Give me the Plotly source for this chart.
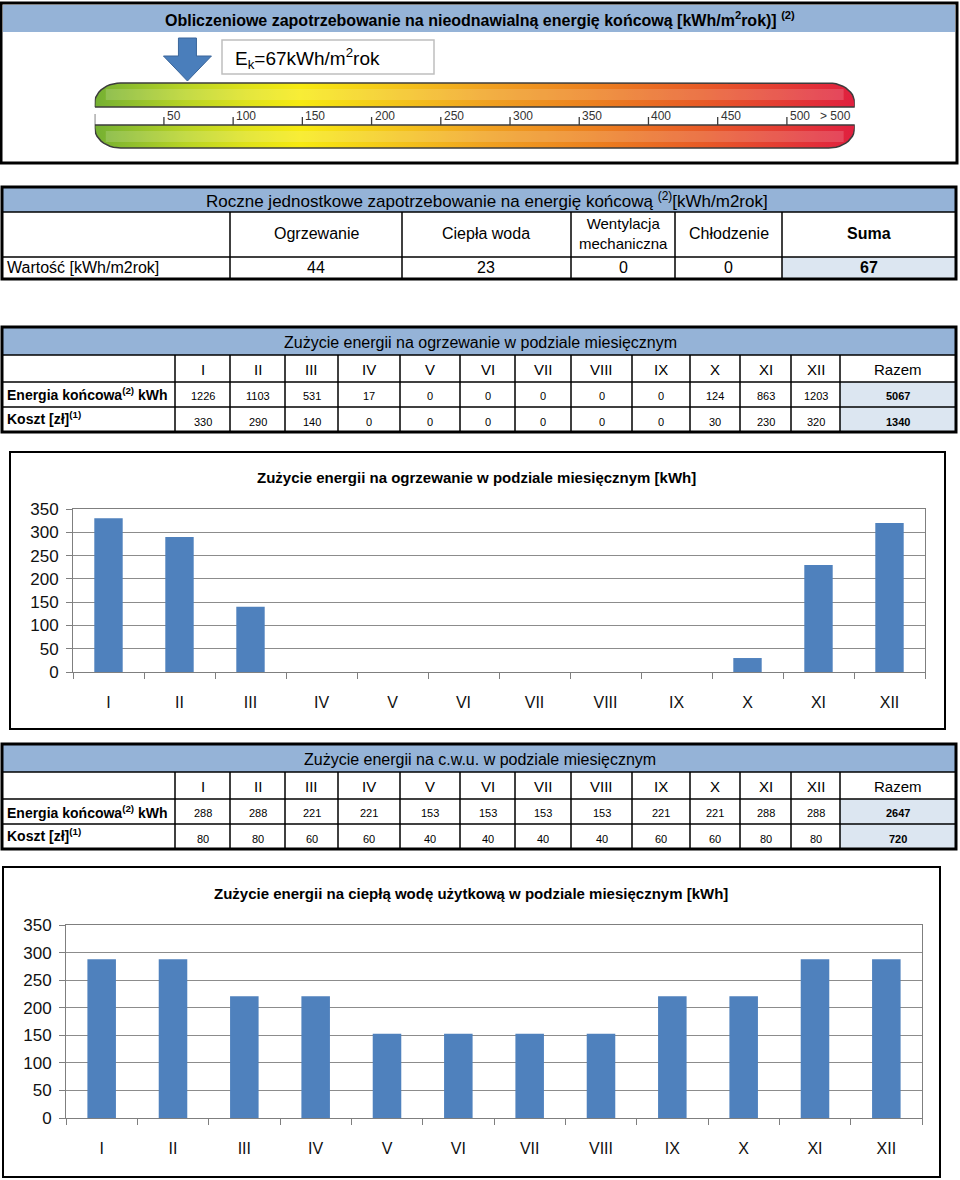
import numpy as np
import plotly.graph_objects as go

# ---------------- data ----------------
MONTHS = ["I", "II", "III", "IV", "V", "VI", "VII", "VIII", "IX", "X", "XI", "XII"]

HEAT_ENERGY = [1226, 1103, 531, 17, 0, 0, 0, 0, 0, 124, 863, 1203]
HEAT_COST = [330, 290, 140, 0, 0, 0, 0, 0, 0, 30, 230, 320]
HEAT_ENERGY_TOTAL = 5067
HEAT_COST_TOTAL = 1340

DHW_ENERGY = [288, 288, 221, 221, 153, 153, 153, 153, 221, 221, 288, 288]
DHW_COST = [80, 80, 60, 60, 40, 40, 40, 40, 60, 60, 80, 80]
DHW_ENERGY_TOTAL = 2647
DHW_COST_TOTAL = 720

ANNUAL_CATEGORIES = ["Ogrzewanie", "Ciepła woda", "Wentylacja<br>mechaniczna", "Chłodzenie"]
ANNUAL_VALUES = [44, 23, 0, 0]
ANNUAL_SUM = 67

EK = 67
SCALE_TICKS = [50, 100, 150, 200, 250, 300, 350, 400, 450, 500]
SCALE_MAX = 549

# ---------------- helpers ----------------
W, H = 960, 1180
FONT = "Liberation Sans, Arial, sans-serif"
BAND = "#95b3d7"
LIGHT = "#dce6f1"
BAR = "#4f81bd"

SC_PX0 = 94.7          # pixel of scale value 0
SC_PER = 1.3844        # pixels per kWh/m2rok on the scale


def X(px):
    return px / W


def Y(py):
    return 1 - py / H


shapes = []
annotations = []


def rect(x0, y0, x1, y1, fill=None, color=None, width=1):
    shapes.append(dict(type="rect", xref="paper", yref="paper",
                       x0=X(x0), x1=X(x1), y0=Y(y1), y1=Y(y0),
                       fillcolor=fill if fill else "rgba(0,0,0,0)",
                       line=dict(color=color if color else "rgba(0,0,0,0)",
                                 width=width if color else 0),
                       layer="above"))


def line(x0, y0, x1, y1, color="#000", width=1):
    shapes.append(dict(type="line", xref="paper", yref="paper",
                       x0=X(x0), x1=X(x1), y0=Y(y0), y1=Y(y1),
                       line=dict(color=color, width=width), layer="above"))


def text(x, y, s, size=15, bold=False, anchor="center", color="#000"):
    annotations.append(dict(xref="paper", yref="paper", x=X(x), y=Y(y),
                            text=f"<b>{s}</b>" if bold else s, showarrow=False,
                            xanchor=anchor, yanchor="middle",
                            font=dict(family=FONT, size=size, color=color)))


fig = go.Figure()

# ---------------- box 1: scale ----------------
rect(3, 5, 955, 32, fill=BAND)
rect(1, 3, 957, 163, color="#000", width=3)
text(480, 19, "Obliczeniowe zapotrzebowanie na nieodnawialną energię końcową [kWh/m<sup>2</sup>rok)] <sup>(2)</sup>",
     size=16, bold=True)

SCALE_COLORS = [[0.0, "#74b032"], [0.12, "#b9d424"], [0.2, "#dfe21a"], [0.27, "#f7ea10"],
                [0.4, "#f4c41a"], [0.52, "#f0a020"], [0.66, "#ec7f1e"], [0.8, "#e85a26"],
                [1.0, "#e0203f"]]

rx = 26 / SC_PER
ry = 20


def arc(cx, cy, t0, t1, n=12):
    t = np.linspace(t0, t1, n)
    return list(cx + rx * np.cos(t)), list(cy + ry * np.sin(t))


def band(y_top, y_bot, round_top):
    xs, ys = [], []
    if round_top:
        xs += [0]; ys += [y_bot]
        ax, ay = arc(rx, y_top + ry, np.pi, 1.5 * np.pi); xs += ax; ys += ay
        ax, ay = arc(SCALE_MAX - rx, y_top + ry, 1.5 * np.pi, 2 * np.pi); xs += ax; ys += ay
        xs += [SCALE_MAX, 0]; ys += [y_bot, y_bot]
    else:
        xs += [0, SCALE_MAX]; ys += [y_top, y_top]
        ax, ay = arc(SCALE_MAX - rx, y_bot - ry, 0, 0.5 * np.pi); xs += ax; ys += ay
        ax, ay = arc(rx, y_bot - ry, 0.5 * np.pi, np.pi); xs += ax; ys += ay
        xs += [0]; ys += [y_top]
    return xs, ys


for (yt, yb, rt) in [(83, 107, True), (125, 148, False)]:
    bx, by = band(yt, yb, rt)
    fig.add_trace(go.Scatter(x=bx, y=by, mode="lines", fill="toself",
                             fillgradient=dict(type="horizontal", colorscale=SCALE_COLORS),
                             line=dict(color="#3c3c3c", width=1.5),
                             xaxis="x3", yaxis="y3", hoverinfo="skip"))
for (yt, yb) in [(89, 100), (131, 142)]:
    gx = [8, SCALE_MAX - 8, SCALE_MAX - 8, 8, 8]
    gy = [yt, yt, yb, yb, yt]
    fig.add_trace(go.Scatter(x=gx, y=gy, mode="lines", fill="toself",
                             fillcolor="rgba(255,255,255,0.16)", line=dict(width=0),
                             xaxis="x3", yaxis="y3", hoverinfo="skip"))

tx, ty = [0, 0, None], [114, 125, None]
for v in SCALE_TICKS:
    tx += [v, v, None]
    ty += [117, 125, None]
fig.add_trace(go.Scatter(x=tx, y=ty, mode="lines", line=dict(color="#3c3c3c", width=1.3),
                         xaxis="x3", yaxis="y3", hoverinfo="skip"))
for v in SCALE_TICKS:
    annotations.append(dict(xref="x3", yref="y3", x=v + 1 / SC_PER, y=116, text=str(v),
                            showarrow=False, xanchor="left", yanchor="middle",
                            font=dict(family=FONT, size=12, color="#333")))
annotations.append(dict(xref="x3", yref="y3", x=SCALE_MAX - 2 / SC_PER, y=116, text="&gt; 500",
                        showarrow=False, xanchor="right", yanchor="middle",
                        font=dict(family=FONT, size=12, color="#333")))

sw, hw = 9 / SC_PER, 24 / SC_PER
ax_ = [EK - sw, EK + sw, EK + sw, EK + hw, EK, EK - hw, EK - sw, EK - sw]
ay_ = [38, 38, 56, 56, 81, 56, 56, 38]
fig.add_trace(go.Scatter(x=ax_, y=ay_, mode="lines", fill="toself", fillcolor="#4a7ebb",
                         line=dict(color="#3a659a", width=1), xaxis="x3", yaxis="y3",
                         hoverinfo="skip"))
rect(222, 40, 434, 74, fill="#fff", color="#bfbfbf", width=1.5)
text(233, 58, f"E<sub>k</sub>={EK}kWh/m<sup>2</sup>rok", size=19, anchor="left")

# ---------------- table 2: annual ----------------
T2 = [187, 212, 257, 279]
C2 = [2, 230, 402, 571, 675, 782, 956]
rect(3, 188, 955, 212, fill=BAND)
rect(C2[5], T2[2], C2[6], T2[3], fill=LIGHT)
text(487, 200, "Roczne jednostkowe zapotrzebowanie na energię końcową <sup>(2)</sup>[kWh/m2rok]", size=17)
line(2, T2[1], 956, T2[1], width=1.5)
line(2, T2[2], 956, T2[2], width=1.5)
for cx in C2[1:-1]:
    line(cx, T2[1], cx, T2[3], width=1.5)
rect(2, 187, 956, 279, color="#000", width=3)
for i, (cat, val) in enumerate(zip(ANNUAL_CATEGORIES, ANNUAL_VALUES)):
    xc = (C2[i + 1] + C2[i + 2]) / 2
    text(xc, 234, cat, size=15 if "<br>" in cat else 16)
    text(xc, 268, str(val), size=16)
text((C2[5] + C2[6]) / 2, 234, "Suma", size=16, bold=True)
text((C2[5] + C2[6]) / 2, 268, str(ANNUAL_SUM), size=16, bold=True)
text(5, 268, "Wartość [kWh/m2rok]", size=16, anchor="left")

# ---------------- monthly tables ----------------
CM = [2, 175, 230, 285, 338, 400, 460, 515, 571, 632, 690, 740, 791, 840, 956]


def monthly_table(top, title, energy, cost, e_total, c_total):
    r = [top, top + 28, top + 55, top + 80, top + 105]
    rect(3, r[0] + 1, 955, r[1], fill=BAND)
    rect(CM[-2], r[2], CM[-1], r[4], fill=LIGHT)
    text(480, (r[0] + r[1]) / 2 + 1, title, size=16)
    for yy in r[1:4]:
        line(2, yy, 956, yy, width=1.5)
    for cx in CM[1:-1]:
        line(cx, r[1], cx, r[4], width=1.5)
    rect(2, r[0], 956, r[4], color="#000", width=3)
    for i, m in enumerate(MONTHS + ["Razem"]):
        xc = (CM[i + 1] + CM[i + 2]) / 2
        text(xc, (r[1] + r[2]) / 2 + 1, m, size=15)
    for i, (e, c) in enumerate(zip(energy + [e_total], cost + [c_total])):
        xc = (CM[i + 1] + CM[i + 2]) / 2
        last = i == len(energy)
        text(xc, (r[2] + r[3]) / 2 + 1, str(e), size=11, bold=last)
        text(xc, (r[3] + r[4]) / 2 + 2, str(c), size=11, bold=last)
    text(5, (r[2] + r[3]) / 2, "Energia końcowa<sup>(2)</sup> kWh", size=14, bold=True, anchor="left")
    text(5, (r[3] + r[4]) / 2 - 2, "Koszt [zł]<sup>(1)</sup>", size=14, bold=True, anchor="left")


monthly_table(327, "Zużycie energii na ogrzewanie w podziale miesięcznym",
              HEAT_ENERGY, HEAT_COST, HEAT_ENERGY_TOTAL, HEAT_COST_TOTAL)
monthly_table(744, "Zużycie energii na c.w.u. w podziale miesięcznym",
              DHW_ENERGY, DHW_COST, DHW_ENERGY_TOTAL, DHW_COST_TOTAL)

# ---------------- charts ----------------
rect(10, 452, 945, 729, color="#000", width=2)
text(476, 477, "Zużycie energii na ogrzewanie w podziale miesięcznym [kWh]", size=15, bold=True)
rect(3, 867, 940, 1177, color="#000", width=2)
text(471, 893, "Zużycie energii na ciepłą wodę użytkową w podziale miesięcznym [kWh]", size=15, bold=True)

fig.add_trace(go.Bar(x=MONTHS, y=HEAT_COST, marker=dict(color=BAR, line=dict(width=0)),
                     xaxis="x", yaxis="y", hoverinfo="skip"))
fig.add_trace(go.Bar(x=MONTHS, y=DHW_ENERGY, marker=dict(color=BAR, line=dict(width=0)),
                     xaxis="x2", yaxis="y2", hoverinfo="skip"))

AXC = "#7f7f7f"
xcommon = dict(type="category", showline=True, linecolor=AXC, linewidth=1, mirror=True,
               ticks="outside", tickson="boundaries", ticklen=6, tickcolor=AXC,
               showgrid=False, ticklabelstandoff=16, automargin=False,
               tickfont=dict(family=FONT, size=16, color="#111"), fixedrange=True)
ycommon = dict(range=[0, 350], dtick=50, showline=True, linecolor=AXC, linewidth=1, mirror=True,
               ticks="outside", ticklen=6, tickcolor=AXC, showgrid=True, gridcolor="#8c8c8c",
               gridwidth=1, zeroline=False, ticklabelstandoff=4, automargin=False,
               tickfont=dict(family=FONT, size=17, color="#111"), fixedrange=True)

fig.update_layout(
    width=W, height=H, autosize=False,
    margin=dict(l=0, r=0, t=0, b=0, pad=0, autoexpand=False),
    paper_bgcolor="#ffffff", plot_bgcolor="rgba(0,0,0,0)",
    showlegend=False, bargap=0.6,
    xaxis=dict(domain=[X(73), X(925)], anchor="y", **xcommon),
    yaxis=dict(domain=[Y(672), Y(509)], anchor="x", **ycommon),
    xaxis2=dict(domain=[X(66), X(922)], anchor="y2", **xcommon),
    yaxis2=dict(domain=[Y(1118), Y(925)], anchor="x2", **ycommon),
    xaxis3=dict(domain=[X(SC_PX0), X(SC_PX0 + SCALE_MAX * SC_PER)], range=[0, SCALE_MAX],
                anchor="y3", visible=False, fixedrange=True, automargin=False),
    yaxis3=dict(domain=[0, 1], range=[H, 0], anchor="x3", visible=False, fixedrange=True,
                automargin=False),
    shapes=shapes, annotations=annotations,
)

fig.write_html("out.html", config={"displayModeBar": False},
               post_script="document.body.style.margin='0';document.body.style.overflow='hidden';")
